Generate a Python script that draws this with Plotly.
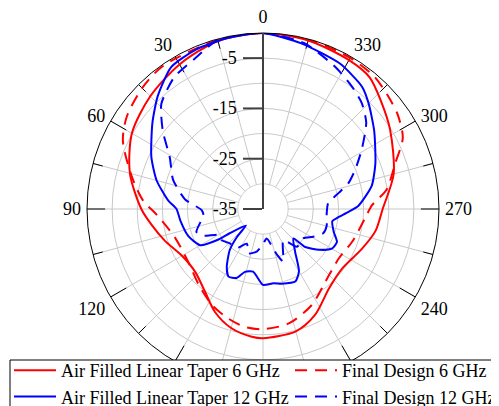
import numpy as np
import plotly.graph_objects as go

# ---- data (degrees, dB) ----
air6_theta = [0, 15, 30, 45, 60, 75, 90, 98, 108, 120, 133, 145, 155, 165, 175, 180,
              195, 206, 220, 233, 248, 259, 270, 285, 302, 312, 321, 330, 345, 360]
air6_r = [0, -0.4, -1.8, -3.3, -4.9, -7.6, -10.8, -12.6, -14.5, -16.4, -16.6, -14.9, -12.4, -10.5, -9.5, -9.3,
          -9.8, -11.5, -14.5, -15.3, -13.8, -12.2, -11.2, -8.1, -5.2, -3.3, -1.3, -0.8, -0.3, 0]

final6_theta = [0, 15, 35, 45, 56, 64, 76, 86, 93, 108, 125, 140, 152, 162, 171, 180,
                193, 207, 221, 237, 250, 265, 272, 279, 289, 297, 305, 312, 320, 330, 345, 360]
final6_r = [0, -0.2, -0.3, -1.0, -2.3, -4.0, -8.1, -11.1, -13.8, -16.6, -16.8, -15.2, -13.4, -12.2, -11.3, -11.1,
            -11.7, -13.6, -16.0, -17.0, -16.1, -14.6, -13.3, -10.1, -7.2, -3.8, -2.3, -1.5, -0.6, -0.3, -0.1, 0]

air12_theta = [0, 12, 23, 33, 43, 52, 65, 75, 85, 90, 98, 110, 120, 124, 126, 134, 137, 141, 148, 153,
               159, 164, 171, 180, 188, 194, 204, 210, 217, 226, 228, 234, 240, 246, 252, 260, 263, 268,
               272, 282, 292, 305, 315, 321, 332, 347, 360]
air12_r = [0, -0.3, -0.6, -1.4, -4.3, -7.1, -10.5, -13.1, -16.1, -17.8, -18.4, -19.2, -20.6, -23.9, -26.8, -30.3,
           -27.4, -24.5, -21.4, -19.9, -20.3, -22.0, -22.4, -19.9, -20.1, -19.7, -19.2, -20.7, -24.4, -26.6,
           -23.7, -21.2, -19.2, -18.9, -20.2, -21.0, -20.2, -18.0, -16.0, -12.9, -10.9, -8.0, -5.3, -3.7,
           -2.3, -1.2, 0]

final12_theta = [0, 15, 24, 34, 44, 52, 61, 72, 83, 91, 96, 109, 114, 121, 127, 136, 146, 155, 162, 172,
                 180, 187, 197, 201, 213, 222, 234, 241, 248, 255, 266, 275, 282, 287, 293, 301, 310, 317,
                 324, 333, 346, 360]
final12_r = [0, -0.2, -2.1, -3.4, -5.9, -9.7, -13.8, -16.2, -19.4, -22.8, -23.1, -21.0, -22.0, -25.0, -24.7,
             -25.5, -25.6, -27.4, -25.7, -26.5, -28.0, -29.1, -25.5, -23.8, -27.6, -24.9, -25.1, -23.6, -22.1,
             -21.9, -22.3, -22.0, -19.6, -17.2, -15.1, -12.1, -8.2, -6.2, -4.9, -3.3, -1.0, 0]

angle_labels = list(range(0, 360, 30))
radial_labels = [-35, -25, -15, -5]
radial_extra_circles = [-30, -20, -10]
r_min, r_max = -35, 0

FONT = "Liberation Serif"
FS = 18
GRID = "#c8c8c8"
W, H = 499, 407   # page body adds an 8px offset; bottom/right overflow is intentional (legend box runs off edge)
OFF = 8

def px_x(x):
    return (x - OFF) / W

def px_y(y):
    return 1 - (y - OFF) / H

fig = go.Figure()

# grid: extra circles and spokes (spokes start at -30 circle like the original)
circ_t = np.arange(0, 361, 2)
for rc in radial_extra_circles:
    fig.add_trace(go.Scatterpolar(theta=circ_t, r=[rc] * len(circ_t), mode="lines",
                                  line=dict(color=GRID, width=1), showlegend=False, hoverinfo="skip"))
sp_t, sp_r = [], []
for a in range(0, 360, 15):
    sp_t += [a, a, None]
    sp_r += [-30, r_max, None]
fig.add_trace(go.Scatterpolar(theta=sp_t, r=sp_r, mode="lines", line=dict(color=GRID, width=1),
                              showlegend=False, hoverinfo="skip"))
# inward angular ticks: long at 30 deg, short at 15 deg
tk_t, tk_r = [], []
for a in range(0, 360, 15):
    tk_t += [a, a, None]
    tk_r += [(-3.6 if a % 30 == 0 else -2.0), r_max, None]
fig.add_trace(go.Scatterpolar(theta=tk_t, r=tk_r, mode="lines", line=dict(color="black", width=1),
                              showlegend=False, hoverinfo="skip"))

DASH = "12px,8px"
fig.add_trace(go.Scatterpolar(theta=air6_theta, r=air6_r, mode="lines", name="Air Filled Linear Taper 6 GHz",
                              legend="legend",
                              line=dict(color="#ff0000", width=2, shape="spline", smoothing=0.8)))
fig.add_trace(go.Scatterpolar(theta=final6_theta, r=final6_r, mode="lines", name="Final Design 6 GHz",
                              legend="legend2",
                              line=dict(color="#ff0000", width=2, dash=DASH, shape="spline", smoothing=0.8)))
fig.add_trace(go.Scatterpolar(theta=air12_theta, r=air12_r, mode="lines", name="Air Filled Linear Taper 12 GHz",
                              legend="legend",
                              line=dict(color="#0000ff", width=2, shape="spline", smoothing=0.6)))
fig.add_trace(go.Scatterpolar(theta=final12_theta, r=final12_r, mode="lines", name="Final Design 12 GHz",
                              legend="legend2",
                              line=dict(color="#0000ff", width=2, dash=DASH, shape="spline", smoothing=0.6)))

legend_common = dict(
    orientation="v", yanchor="bottom", y=0,
    bgcolor="rgba(0,0,0,0)", borderwidth=0,
    font=dict(family=FONT, size=FS, color="black"),
    itemwidth=42, tracegroupgap=0, traceorder="normal",
)

fig.update_layout(
    width=W, height=H,
    margin=dict(l=0, r=0, t=0, b=0),
    paper_bgcolor="white",
    font=dict(family=FONT, size=FS, color="black"),
    polar=dict(
        domain=dict(x=[px_x(87), px_x(439)], y=[px_y(385), px_y(33)]),
        bgcolor="white",
        angularaxis=dict(
            rotation=90, direction="counterclockwise",
            tickvals=angle_labels, ticktext=[str(a) for a in angle_labels],
            ticks="outside", ticklen=2, tickcolor="rgba(0,0,0,0)", tickwidth=1,
            showline=True, linecolor="black", linewidth=1,
            showgrid=False, tickfont=dict(family=FONT, size=FS, color="black"),
        ),
        radialaxis=dict(
            range=[r_min, r_max], angle=90, side="counterclockwise",
            tickvals=radial_labels, ticktext=[str(v) for v in radial_labels],
            ticks="outside", ticklen=19, tickcolor="#404040", tickwidth=1.5,
            showline=True, linecolor="#404040", linewidth=2,
            showgrid=True, gridcolor=GRID, gridwidth=1,
            tickfont=dict(family=FONT, size=FS, color="black"),
            tickangle=90,
        ),
    ),
    legend=dict(x=1 / W, xanchor="left", **legend_common),
    legend2=dict(x=1 - 6 / W, xanchor="right", **legend_common),
    shapes=[dict(type="rect", xref="paper", yref="paper",
                 x0=px_x(10), x1=1.05, y0=-0.05, y1=px_y(360),
                 line=dict(color="black", width=1), fillcolor="white", layer="above")],
    showlegend=True,
)

fig.write_html("out.html")
